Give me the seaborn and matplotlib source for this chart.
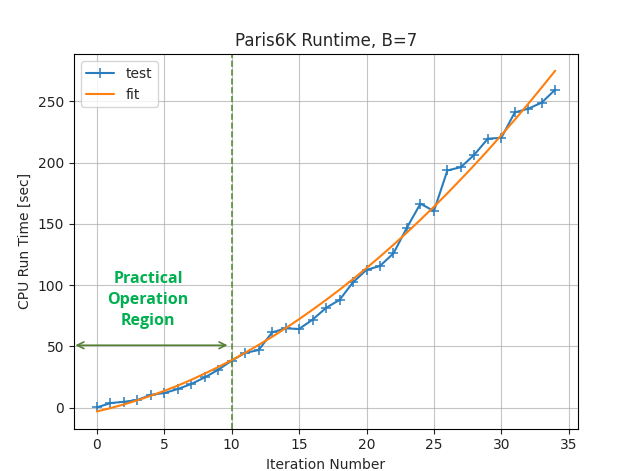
import numpy as np
import pandas as pd
import matplotlib
matplotlib.use("Agg")
import matplotlib.pyplot as plt
import seaborn as sns

# Iterations and measured CPU run time per iteration
iterations = list(range(35))
test_sec = [0.3, 3.8, 4.9, 6.3, 10.6, 12.0, 15.3, 19.4, 24.8, 31.0,
            38.5, 44.8, 47.1, 61.5, 64.8, 64.3, 71.9, 81.5, 88.0, 102.4,
            112.5, 115.7, 126.0, 147.0, 166.5, 160.5, 193.6, 196.3, 206.5, 219.5,
            220.3, 241.0, 244.0, 249.0, 259.6]
# Fitted curve values at the same iterations
fit_sec = [-3.0, -0.3, 2.7, 6.1, 9.8, 13.8, 18.1, 22.8, 27.9, 33.2,
           38.9, 44.9, 51.3, 57.9, 64.9, 72.3, 80.0, 88.0, 96.3, 105.0,
           114.0, 123.3, 133.0, 143.0, 153.4, 164.0, 175.0, 186.4, 198.0, 210.0,
           222.4, 235.0, 248.0, 261.4, 275.0]

region_limit = 10
region_level = 51

df = pd.DataFrame({"iter": iterations, "test": test_sec, "fit": fit_sec})

sns.set_theme(style="ticks")
plt.rcParams["font.family"] = ["DejaVu Sans"]

fig = plt.figure(figsize=(6.19, 4.71), dpi=100)
ax = fig.add_axes([0.1195, 0.09, 0.934 - 0.1195, 0.885 - 0.09])

blue = "#2a7dbd"
sns.lineplot(data=df, x="iter", y="test", ax=ax, color=blue,
             marker="+", markersize=6.5, markeredgewidth=1.1,
             markeredgecolor=blue, markerfacecolor=blue, linewidth=1.5,
             label="test")
sns.lineplot(data=df, x="iter", y="fit", ax=ax, color="#ff7f0e",
             linewidth=1.5, label="fit")

ax.axvline(region_limit, color="#5b8f3a", linestyle="--", linewidth=1.2)

ax.set_xlim(-1.7, 35.7)
ax.set_ylim(-17.0, 288.5)
ax.set_xticks(range(0, 36, 5))
ax.set_yticks(range(0, 251, 50))

ax.annotate("", xy=(region_limit, region_level), xytext=(-1.7, region_level),
            arrowprops=dict(arrowstyle="<->", color="#548235", lw=1.2,
                            shrinkA=1, shrinkB=3))
ax.text(3.8, 88, "Practical\nOperation\nRegion", color="#00b050",
        fontsize=11.5, fontweight="bold", family=["Open Sans", "DejaVu Sans"],
        ha="center", va="center", linespacing=1.4)

ax.grid(True, color="#b0b0b0", linewidth=0.8, alpha=0.75)
for s in ax.spines.values():
    s.set_color("black")
    s.set_linewidth(0.8)
ax.tick_params(colors="#222222", labelsize=10, width=0.8, length=3.5)

ax.set_title("Paris6K Runtime, B=7", fontsize=12)
ax.set_xlabel("Iteration Number", fontsize=10)
ax.set_ylabel("CPU Run Time [sec]", fontsize=10)
ax.legend(loc="upper left", fontsize=10)

fig.savefig("out.png", dpi=100)
